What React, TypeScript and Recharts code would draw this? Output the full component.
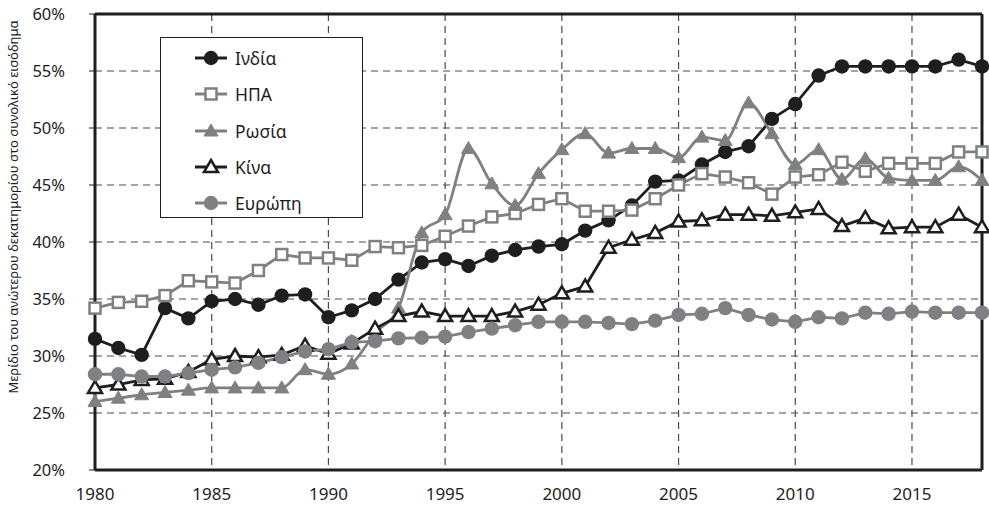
import {
  CartesianGrid,
  Legend,
  Line,
  LineChart,
  ReferenceLine,
  XAxis,
  YAxis,
} from "recharts";

const years = [
  1980, 1981, 1982, 1983, 1984, 1985, 1986, 1987, 1988, 1989, 1990, 1991, 1992,
  1993, 1994, 1995, 1996, 1997, 1998, 1999, 2000, 2001, 2002, 2003, 2004, 2005,
  2006, 2007, 2008, 2009, 2010, 2011, 2012, 2013, 2014, 2015, 2016, 2017, 2018,
];

const india = [
  31.5, 30.7, 30.1, 34.2, 33.3, 34.8, 35.0, 34.5, 35.3, 35.4, 33.4, 34.0, 35.0,
  36.7, 38.2, 38.5, 37.9, 38.8, 39.3, 39.6, 39.8, 41.0, 41.9, 43.2, 45.3, 45.4,
  46.8, 47.9, 48.4, 50.8, 52.1, 54.6, 55.4, 55.4, 55.4, 55.4, 55.4, 56.0, 55.4,
];

const usa = [
  34.2, 34.7, 34.8, 35.3, 36.6, 36.5, 36.4, 37.5, 38.9, 38.6, 38.6, 38.4, 39.6,
  39.5, 39.7, 40.5, 41.4, 42.2, 42.5, 43.3, 43.8, 42.7, 42.7, 42.8, 43.8, 45.0,
  46.0, 45.7, 45.2, 44.2, 45.7, 45.9, 47.0, 46.2, 46.9, 46.9, 46.9, 47.9, 47.9,
];

const russia = [
  26.0, 26.3, 26.6, 26.8, 27.0, 27.2, 27.2, 27.2, 27.2, 28.8, 28.4, 29.3, 32.0,
  34.2, 40.8, 42.4, 48.2, 45.1, 43.2, 46.0, 48.1, 49.5, 47.8, 48.2, 48.2, 47.4,
  49.2, 48.9, 52.2, 49.5, 46.8, 48.1, 45.5, 47.3, 45.6, 45.4, 45.4, 46.6, 45.4,
];

const china = [
  27.2, 27.5, 27.9, 28.0, 28.6, 29.7, 30.0, 29.9, 30.1, 30.9, 30.2, 31.1, 32.4,
  33.5, 33.9, 33.5, 33.5, 33.5, 33.9, 34.5, 35.5, 36.1, 39.5, 40.2, 40.8, 41.8,
  41.9, 42.4, 42.4, 42.3, 42.6, 42.9, 41.4, 42.1, 41.2, 41.3, 41.3, 42.4, 41.3,
];

const europe = [
  28.4, 28.4, 28.2, 28.2, 28.5, 28.8, 29.0, 29.4, 29.9, 30.4, 30.6, 31.2, 31.3,
  31.55, 31.6, 31.7, 32.1, 32.4, 32.7, 33.0, 33.0, 33.0, 32.9, 32.8, 33.1, 33.6,
  33.7, 34.2, 33.6, 33.2, 33.0, 33.4, 33.3, 33.8, 33.7, 33.9, 33.8, 33.8, 33.8,
];

const xTicks = [1980, 1985, 1990, 1995, 2000, 2005, 2010, 2015];
const yTicks = [20, 25, 30, 35, 40, 45, 50, 55, 60];

const data = years.map((year, i) => ({
  year,
  india: india[i],
  usa: usa[i],
  russia: russia[i],
  china: china[i],
  europe: europe[i],
}));

const DARK = "#1e1e1e";
const GRAY = "#7f8084";
const FONT = "'Noto Sans', 'DejaVu Sans', sans-serif";

type Marker = "circle" | "square" | "triangle";

function markerShape(kind: Marker, cx: number, cy: number, color: string, hollow: boolean, key?: string) {
  const fill = hollow ? "#fff" : color;
  if (kind === "circle") {
    return <circle key={key} cx={cx} cy={cy} r={7.2} fill={fill} stroke={color} strokeWidth={hollow ? 2.5 : 0} />;
  }
  if (kind === "square") {
    return <rect key={key} x={cx - 5.5} y={cy - 5.5} width={11} height={11} fill={fill} stroke={color} strokeWidth={2.5} />;
  }
  const pts = `${cx},${cy - 7} ${cx + 7},${cy + 5} ${cx - 7},${cy + 5}`;
  return <polygon key={key} points={pts} fill={fill} stroke={color} strokeWidth={hollow ? 2.5 : 1} strokeLinejoin="miter" />;
}

const seriesList = [
  { key: "india", name: "Ινδία", color: DARK, marker: "circle" as Marker, hollow: false, curve: "linear" },
  { key: "usa", name: "ΗΠΑ", color: GRAY, marker: "square" as Marker, hollow: true, curve: "linear" },
  { key: "russia", name: "Ρωσία", color: GRAY, marker: "triangle" as Marker, hollow: false, curve: "monotone" },
  { key: "china", name: "Κίνα", color: DARK, marker: "triangle" as Marker, hollow: true, curve: "linear" },
  { key: "europe", name: "Ευρώπη", color: GRAY, marker: "circle" as Marker, hollow: false, curve: "linear" },
];

function LegendBox() {
  return (
    <div
      style={{
        width: 203,
        height: 181,
        border: `1.5px solid ${DARK}`,
        background: "#fff",
        boxSizing: "border-box",
        paddingTop: 2,
      }}
    >
      {seriesList.map((s) => (
        <div key={s.key} style={{ display: "flex", alignItems: "center", height: 36.3 }}>
          <svg width={70} height={20} style={{ marginLeft: 4 }}>
            <line x1={30} y1={10} x2={62} y2={10} stroke={s.color} strokeWidth={3} />
            {markerShape(s.marker, 46, 10, s.color, s.hollow)}
          </svg>
          <span style={{ fontFamily: FONT, fontSize: 17.5, color: DARK }}>{s.name}</span>
        </div>
      ))}
    </div>
  );
}

export default function App() {
  return (
    <div style={{ position: "absolute", left: 0, top: 0, background: "#fff" }}>
      <LineChart width={989} height={511} data={data} margin={{ top: 14, right: 7, left: 0, bottom: 11 }}>
        <CartesianGrid strokeDasharray="7 5" stroke="#4a4a4a" strokeWidth={1.2} />
        <XAxis
          dataKey="year"
          type="number"
          domain={[1980, 2018]}
          ticks={xTicks}
          tickSize={0}
          tickMargin={18}
          height={30}
          axisLine={{ stroke: DARK, strokeWidth: 3 }}
          tick={{ fill: DARK, fontSize: 17, fontFamily: FONT }}
        />
        <YAxis
          domain={[20, 60]}
          ticks={yTicks}
          tickFormatter={(v: number) => `${v}%`}
          width={95}
          tickSize={6}
          tickMargin={24}
          axisLine={{ stroke: DARK, strokeWidth: 3 }}
          tickLine={{ stroke: DARK }}
          tick={{ fill: DARK, fontSize: 16.5, fontFamily: FONT }}
          label={{
            content: () => (
              <text
                x={15}
                y={207}
                transform="rotate(-90, 15, 207)"
                textAnchor="middle"
                dominantBaseline="middle"
                fontSize={13}
                fontFamily={FONT}
                fill={DARK}
              >
                Μερίδιο του ανώτερου δεκατημορίου στο συνολικό εισόδημα
              </text>
            ),
          }}
        />
        <ReferenceLine y={60} stroke={DARK} strokeWidth={3} />
        <ReferenceLine x={2018} stroke={DARK} strokeWidth={3} />
        <Legend
          layout="vertical"
          align="center"
          verticalAlign="middle"
          content={() => <LegendBox />}
          wrapperStyle={{ left: 160, top: 37, width: 205, height: 183 }}
        />
        {seriesList.map((s) => (
          <Line
            key={s.key}
            dataKey={s.key}
            name={s.name}
            type={s.curve as "linear" | "monotone"}
            stroke={s.color}
            strokeWidth={2.8}
            isAnimationActive={false}
            activeDot={false}
            dot={(p: any) => markerShape(s.marker, p.cx, p.cy, s.color, s.hollow, `${s.key}-${p.index}`)}
          />
        ))}
      </LineChart>
    </div>
  );
}
